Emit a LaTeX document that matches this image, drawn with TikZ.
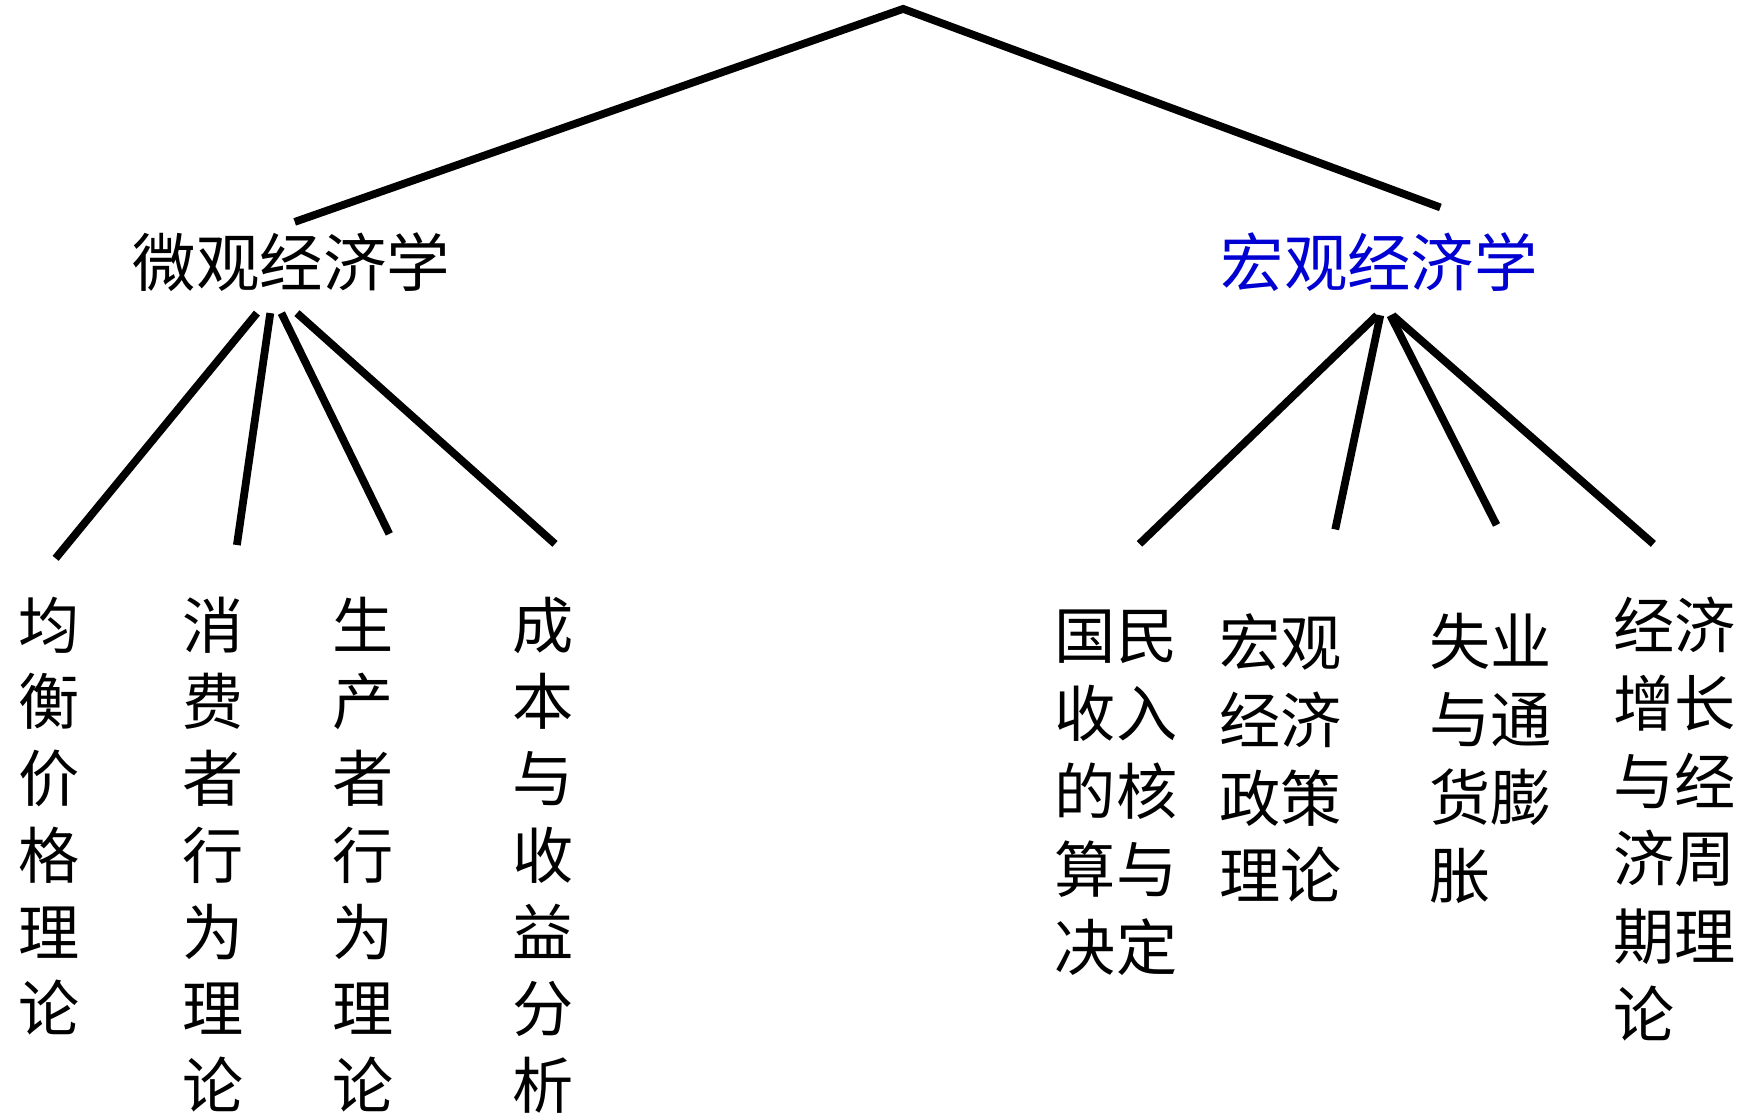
\documentclass[tikz,border=0pt]{standalone}
\usepackage{fontspec}
\usepackage{tikz}
\usepackage{xcolor}
\newfontfamily\cjk{Noto Sans CJK SC}
\definecolor{macroblue}{RGB}{0,0,210}

\begin{document}
\begin{tikzpicture}[x=1pt,y=-1pt,line width=7pt]
			\useasboundingbox (0,0) rectangle (1568,1002);
			\tikzstyle{head}=[inner sep=0,anchor=base,text height=48pt,text depth=10pt,font=\cjk\fontsize{57}{57}\selectfont]
			\tikzstyle{col}=[inner sep=0,anchor=north,align=center,font=\cjk\fontsize{55}{69}\selectfont]
			\tikzstyle{colr}=[inner sep=0,anchor=north west,align=left,font=\cjk\fontsize{55}{70}\selectfont]
			\coordinate (top) at (812,8);
			\node[head] (micro) at (262,258) {微观经济学};
			\node[head,text=macroblue] (macro) at (1240,258) {宏观经济学};
			\draw ([xshift=3pt,yshift=7pt]micro.north) -- (top) -- ([xshift=55pt,yshift=20pt]macro.north);
			% micro
			\node[col] (c1) at (44,533) {均\\衡\\价\\格\\理\\论};
			\node[col] (c2) at (192,533) {消\\费\\者\\行\\为\\理\\论};
			\node[col] (c3) at (326,533) {生\\产\\者\\行\\为\\理\\论};
			\node[col] (c4) at (488,533) {成\\本\\与\\收\\益\\分\\析};
			\draw ([xshift=-31pt,yshift=-10pt]micro.south) -- ([xshift=6pt,yshift=31pt]c1.north);
			\draw ([xshift=-19pt,yshift=-10pt]micro.south) -- ([xshift=21pt,yshift=43pt]c2.north);
			\draw ([xshift=-9pt,yshift=-10pt]micro.south) -- ([xshift=24pt,yshift=53pt]c3.north);
			\draw ([xshift=5pt,yshift=-10pt]micro.south) -- ([xshift=11pt,yshift=44pt]c4.north);
			% macro
			\node[colr] (d1) at (945,545) {国民\\收入\\的核\\算与\\决定};
			\node[colr] (d2) at (1093,548) {宏观\\经济\\政策\\理论};
			\node[colr] (d3) at (1282,548) {失业\\与通\\货膨\\胀};
			\node[colr] (d4) at (1447,533) {经济\\增长\\与经\\济周\\期理\\论};
			\draw ([xshift=-2pt,yshift=-12pt]macro.south) -- ([xshift=21pt,yshift=56pt]d1.north);
			\draw ([xshift=1pt,yshift=-12pt]macro.south) -- ([xshift=49pt,yshift=72pt]d2.north);
			\draw ([xshift=10pt,yshift=-12pt]macro.south) -- ([xshift=5pt,yshift=76pt]d3.north);
			\draw ([xshift=12pt,yshift=-12pt]macro.south) -- ([xshift=-19pt,yshift=44pt]d4.north);
		\end{tikzpicture}
\end{document}
